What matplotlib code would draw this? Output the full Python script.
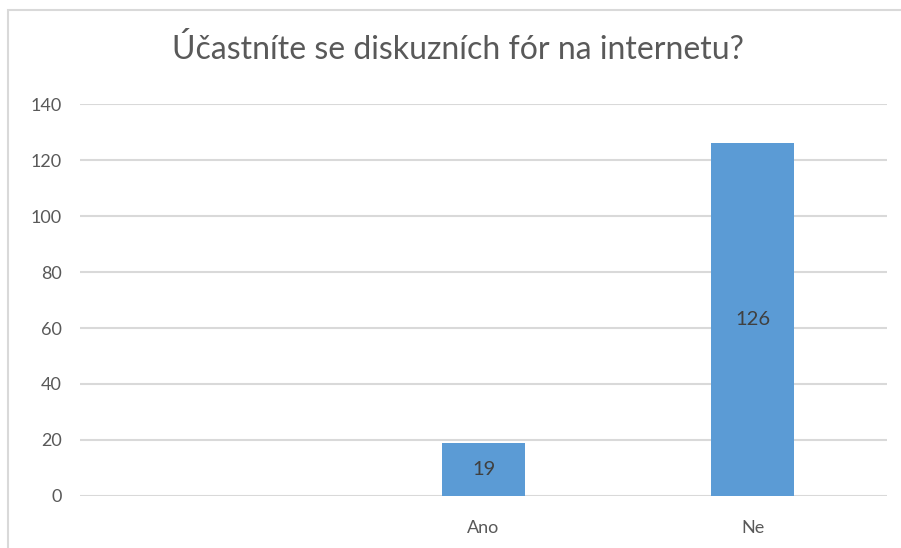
import matplotlib
matplotlib.use("Agg")
import matplotlib.pyplot as plt
from matplotlib.patches import Rectangle
import numpy as np

categories = ["", "Ano", "Ne"]
values = [np.nan, 19, 126]
value_labels = ["", "19", "126"]
yticks = [0, 20, 40, 60, 80, 100, 120, 140]

plt.rcParams["font.family"] = ["Lato", "DejaVu Sans"]
text_color = "#595959"
grid_color = "#d9d9d9"
bar_color = "#5b9bd5"

fig = plt.figure(figsize=(9.01, 5.48), dpi=100)
ax = fig.add_axes([0.0888, 0.0949, 0.8957, 0.7153])

# chart border (only left and top visible in the crop)
fig.patches.append(Rectangle((8 / 901, -0.1), 1.2, 1 - 10 / 548 + 0.1,
                             transform=fig.transFigure, fill=False,
                             edgecolor=grid_color, linewidth=1.5))

x = np.arange(len(categories))
bars = ax.bar(x, values, width=0.31, color=bar_color, zorder=3)

for xi, v, lab in zip(x, values, value_labels):
    if lab:
        ax.text(xi, v / 2, lab, ha="center", va="center",
                fontsize=14.5, color="#404040", zorder=4)

ax.set_xlim(-0.5, len(categories) - 0.5)
ax.set_ylim(0, 140)
ax.set_yticks(yticks)
ax.set_xticks(x)
ax.set_xticklabels(categories)
ax.yaxis.grid(True, color=grid_color, linewidth=1.5, zorder=0)
ax.set_axisbelow(True)
for s in ax.spines.values():
    s.set_visible(False)
ax.tick_params(axis="both", length=0, colors=text_color, labelsize=13)
ax.tick_params(axis="x", pad=17)
ax.tick_params(axis="y", pad=13)

fig.text(0.508, 0.91, "Účastníte se diskuzních fór na internetu?",
         ha="center", va="center", fontsize=23, color=text_color)

fig.savefig("out.png", dpi=100)
